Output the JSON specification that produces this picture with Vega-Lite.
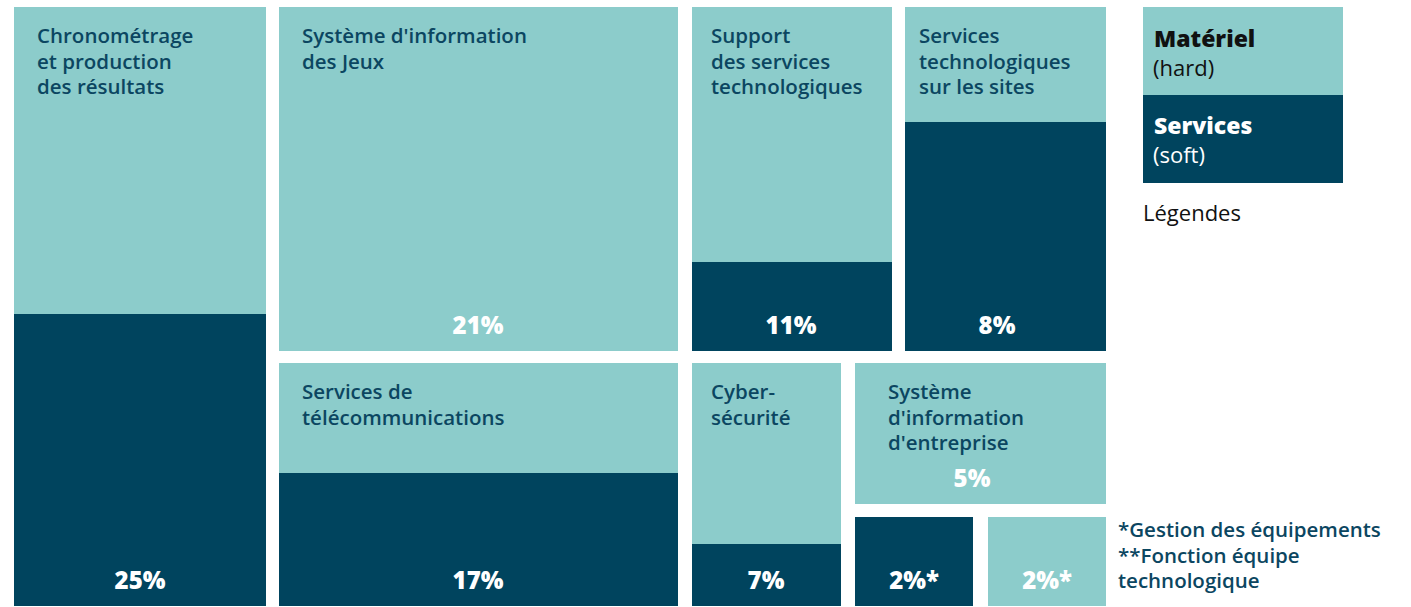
{
  "$schema": "https://vega.github.io/schema/vega-lite/v6.json",
  "width": 1411,
  "height": 607,
  "padding": 0,
  "autosize": {"type": "none"},
  "background": "white",
  "config": {"view": {"stroke": null}, "text": {"font": "Open Sans"}},
  "datasets": {
    "blocks": [
      {"name": "Chronométrage\net production\ndes résultats", "pct": "25%", "x0": 14, "x1": 266, "cx": 140, "y0": 7, "y1": 606, "split": 314},
      {"name": "Système d'information\ndes Jeux", "pct": "21%", "x0": 279, "x1": 678, "cx": 478, "y0": 7, "y1": 351, "split": 351},
      {"name": "Support\ndes services\ntechnologiques", "pct": "11%", "x0": 692, "x1": 892, "cx": 791, "y0": 7, "y1": 351, "split": 262},
      {"name": "Services\ntechnologiques\nsur les sites", "pct": "8%", "x0": 905, "x1": 1106, "cx": 997, "y0": 7, "y1": 351, "split": 122},
      {"name": "Services de\ntélécommunications", "pct": "17%", "x0": 279, "x1": 678, "cx": 478, "y0": 363, "y1": 606, "split": 473},
      {"name": "Cyber-\nsécurité", "pct": "7%", "x0": 692, "x1": 841, "cx": 766, "y0": 363, "y1": 606, "split": 544},
      {"name": "Système\nd'information\nd'entreprise", "pct": "5%", "x0": 855, "x1": 1106, "cx": 972, "y0": 363, "y1": 504, "split": 504},
      {"name": "", "pct": "2%*", "x0": 855, "x1": 973, "cx": 914, "y0": 517, "y1": 606, "split": 517},
      {"name": "", "pct": "2%*", "x0": 988, "x1": 1106, "cx": 1047, "y0": 517, "y1": 606, "split": 606}
    ],
    "legend": [
      {"part": "Matériel", "sub": "(hard)", "x0": 1143, "x1": 1343, "y0": 7, "y1": 95},
      {"part": "Services", "sub": "(soft)", "x0": 1143, "x1": 1343, "y0": 95, "y1": 183}
    ],
    "notes": [
      {"text": "Légendes", "x": 1143, "y": 221, "kind": "legendTitle"},
      {"text": "*Gestion des équipements\n**Fonction équipe\ntechnologique", "x": 1118, "y": 537, "kind": "note"}
    ]
  },
  "encoding": {
    "x": {"field": "x0", "type": "quantitative", "scale": {"domain": [0, 1411], "nice": false, "zero": false}, "axis": null},
    "y": {"field": "y0", "type": "quantitative", "scale": {"domain": [0, 607], "reverse": true, "nice": false, "zero": false}, "axis": null}
  },
  "layer": [
    {
      "data": {"name": "blocks"},
      "mark": {"type": "rect", "color": "#8ccccb"},
      "encoding": {"x2": {"field": "x1"}, "y2": {"field": "split"}}
    },
    {
      "data": {"name": "blocks"},
      "mark": {"type": "rect", "color": "#00445e"},
      "encoding": {"y": {"field": "split", "type": "quantitative"}, "x2": {"field": "x1"}, "y2": {"field": "y1"}}
    },
    {
      "data": {"name": "blocks"},
      "transform": [{"filter": {"field": "name", "oneOf": ["Chronométrage\net production\ndes résultats", "Système d'information\ndes Jeux", "Services de\ntélécommunications"]}}],
      "mark": {"type": "text", "align": "left", "baseline": "alphabetic", "dx": 23, "dy": 36, "lineBreak": "\n", "lineHeight": 25.5, "fontSize": 20.5, "fontWeight": 600, "color": "#0b4661"},
      "encoding": {"text": {"field": "name"}}
    },
    {
      "data": {"name": "blocks"},
      "transform": [{"filter": {"field": "name", "oneOf": ["Support\ndes services\ntechnologiques", "Cyber-\nsécurité"]}}],
      "mark": {"type": "text", "align": "left", "baseline": "alphabetic", "dx": 19, "dy": 36, "lineBreak": "\n", "lineHeight": 25.5, "fontSize": 20.5, "fontWeight": 600, "color": "#0b4661"},
      "encoding": {"text": {"field": "name"}}
    },
    {
      "data": {"name": "blocks"},
      "transform": [{"filter": {"field": "name", "equal": "Services\ntechnologiques\nsur les sites"}}],
      "mark": {"type": "text", "align": "left", "baseline": "alphabetic", "dx": 14, "dy": 36, "lineBreak": "\n", "lineHeight": 25.5, "fontSize": 20.5, "fontWeight": 600, "color": "#0b4661"},
      "encoding": {"text": {"field": "name"}}
    },
    {
      "data": {"name": "blocks"},
      "transform": [{"filter": {"field": "name", "equal": "Système\nd'information\nd'entreprise"}}],
      "mark": {"type": "text", "align": "left", "baseline": "alphabetic", "dx": 33, "dy": 36, "lineBreak": "\n", "lineHeight": 25.5, "fontSize": 20.5, "fontWeight": 600, "color": "#0b4661"},
      "encoding": {"text": {"field": "name"}}
    },
    {
      "data": {"name": "blocks"},
      "mark": {"type": "text", "align": "center", "baseline": "alphabetic", "dy": -17, "fontSize": 24, "fontWeight": 800, "color": "white"},
      "encoding": {"x": {"field": "cx", "type": "quantitative"}, "y": {"field": "y1", "type": "quantitative"}, "text": {"field": "pct"}}
    },
    {
      "data": {"name": "legend"},
      "mark": {"type": "rect"},
      "encoding": {
        "x2": {"field": "x1"},
        "y2": {"field": "y1"},
        "color": {"field": "part", "type": "nominal", "scale": {"domain": ["Matériel", "Services"], "range": ["#8ccccb", "#00445e"]}, "legend": null}
      }
    },
    {
      "data": {"name": "legend"},
      "transform": [{"filter": {"field": "part", "equal": "Matériel"}}],
      "mark": {"type": "text", "align": "left", "baseline": "alphabetic", "dx": 11, "dy": 40, "fontSize": 23, "fontWeight": 800, "color": "#111111"},
      "encoding": {"text": {"field": "part"}}
    },
    {
      "data": {"name": "legend"},
      "transform": [{"filter": {"field": "part", "equal": "Matériel"}}],
      "mark": {"type": "text", "align": "left", "baseline": "alphabetic", "dx": 10, "dy": 69, "fontSize": 22, "fontWeight": "normal", "color": "#111111"},
      "encoding": {"text": {"field": "sub"}}
    },
    {
      "data": {"name": "legend"},
      "transform": [{"filter": {"field": "part", "equal": "Services"}}],
      "mark": {"type": "text", "align": "left", "baseline": "alphabetic", "dx": 11, "dy": 39, "fontSize": 23, "fontWeight": 800, "color": "white"},
      "encoding": {"text": {"field": "part"}}
    },
    {
      "data": {"name": "legend"},
      "transform": [{"filter": {"field": "part", "equal": "Services"}}],
      "mark": {"type": "text", "align": "left", "baseline": "alphabetic", "dx": 10, "dy": 68, "fontSize": 22, "fontWeight": "normal", "color": "white"},
      "encoding": {"text": {"field": "sub"}}
    },
    {
      "data": {"name": "notes"},
      "transform": [{"filter": {"field": "kind", "equal": "legendTitle"}}],
      "mark": {"type": "text", "align": "left", "baseline": "alphabetic", "fontSize": 22, "fontWeight": "normal", "color": "#111111"},
      "encoding": {"x": {"field": "x", "type": "quantitative"}, "y": {"field": "y", "type": "quantitative"}, "text": {"field": "text"}}
    },
    {
      "data": {"name": "notes"},
      "transform": [{"filter": {"field": "kind", "equal": "note"}}],
      "mark": {"type": "text", "align": "left", "baseline": "alphabetic", "lineBreak": "\n", "lineHeight": 25.5, "fontSize": 20.5, "fontWeight": 600, "color": "#0b4661"},
      "encoding": {"x": {"field": "x", "type": "quantitative"}, "y": {"field": "y", "type": "quantitative"}, "text": {"field": "text"}}
    }
  ]
}
